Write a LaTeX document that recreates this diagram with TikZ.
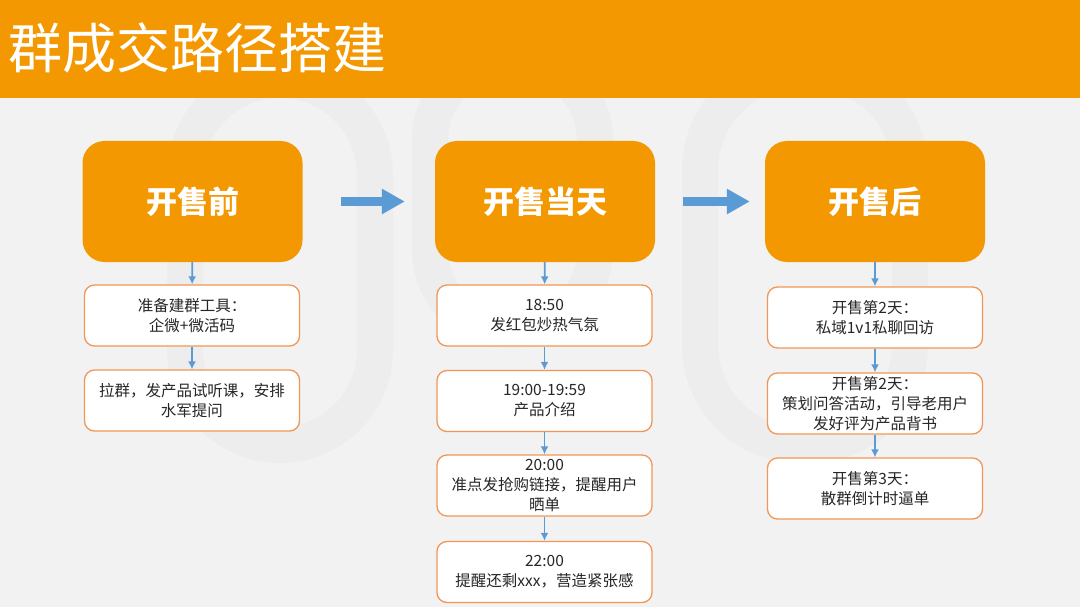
\documentclass[tikz,border=0pt]{standalone}
\usepackage{fontspec}
\setmainfont{Noto Sans CJK SC}
\usepackage{xcolor}
\usepackage{tikz}
\usetikzlibrary{arrows.meta,positioning,calc}

\definecolor{hdr}{RGB}{243,152,0}
\definecolor{bg}{RGB}{242,242,242}
\definecolor{wm}{RGB}{237,237,237}
\definecolor{edge}{RGB}{241,150,86}
\definecolor{flowblue}{RGB}{91,155,213}
\definecolor{txt}{RGB}{38,38,38}

\begin{document}
\begin{tikzpicture}[
  x=1pt,y=-1pt,
  stage/.style={fill=hdr,rounded corners=22pt,minimum width=220pt,
                minimum height=121pt,text=white,
                font=\fontsize{31}{36}\selectfont\bfseries},
  task/.style={draw=edge,line width=1.3pt,fill=white,rounded corners=10pt,
               minimum width=215pt,minimum height=61pt,align=center,
               inner sep=2pt,text=txt,font=\fontsize{15.5}{20}\selectfont},
  go/.style={draw=flowblue,line width=1.8pt,-{Latex[length=8pt,width=8pt]}},
  bigflow/.style={draw=flowblue,line width=9pt,-{Triangle[length=23pt,width=24pt]}},
  mark line/.style={draw=wm,line width=36pt}]

% ---- background -------------------------------------------------------
\useasboundingbox (0,0) rectangle (1080,607);
\fill[bg] (0,0) rectangle (1080,607);
\draw[mark line,rounded corners=95pt] (185,80) rectangle (375,445);
\draw[mark line,rounded corners=80pt] (430,60) rectangle (595,330);
\draw[mark line,rounded corners=100pt] (700,70) rectangle (910,445);
\fill[hdr] (0,0) rectangle (1080,98);
\node[anchor=west,text=white,font=\fontsize{54}{60}\selectfont,inner sep=0pt]
  (title) at (8,48) {群成交路径搭建};

% ---- stages -----------------------------------------------------------
\node[stage] (pre)  at (192.5,201.5) {开售前};
\node[stage] (day)  at (545,201.5)   {开售当天};
\node[stage] (post) at (875,201.5)   {开售后};

% ---- tasks ------------------------------------------------------------
\node[task] (pre1) at (192,315.5) {准备建群工具：\\企微+微活码};
\node[task] (pre2) at (192,400.5) {拉群，发产品试听课，安排\\水军提问};

\node[task] (day1) at (544.5,315.5) {18:50\\发红包炒热气氛};
\node[task] (day2) at (544.5,401)   {19:00-19:59\\产品介绍};
\node[task] (day3) at (544.5,485.5) {20:00\\准点发抢购链接，提醒用户\\晒单};
\node[task] (day4) at (544.5,572)   {22:00\\提醒还剩xxx，营造紧张感};

\node[task] (post1) at (875,317.5) {开售第2天：\\私域1v1私聊回访};
\node[task] (post2) at (875,403.5) {开售第2天：\\策划问答活动，引导老用户\\发好评为产品背书};
\node[task] (post3) at (875,488.5) {开售第3天：\\散群倒计时逼单};

% ---- edges ------------------------------------------------------------
\draw[bigflow] ([xshift=38pt]pre.east) -- ([xshift=-30pt]day.west);
\draw[bigflow] ([xshift=28pt]day.east) -- ([xshift=-15pt]post.west);

\draw[go] (pre)  -- (pre1);
\draw[go] (pre1) -- (pre2);
\draw[go] (day)  -- (day1);
\draw[go] (day1) -- (day2);
\draw[go] (day2) -- (day3);
\draw[go] (day3) -- (day4);
\draw[go] (post)  -- (post1);
\draw[go] (post1) -- (post2);
\draw[go] (post2) -- (post3);
\end{tikzpicture}
\end{document}
